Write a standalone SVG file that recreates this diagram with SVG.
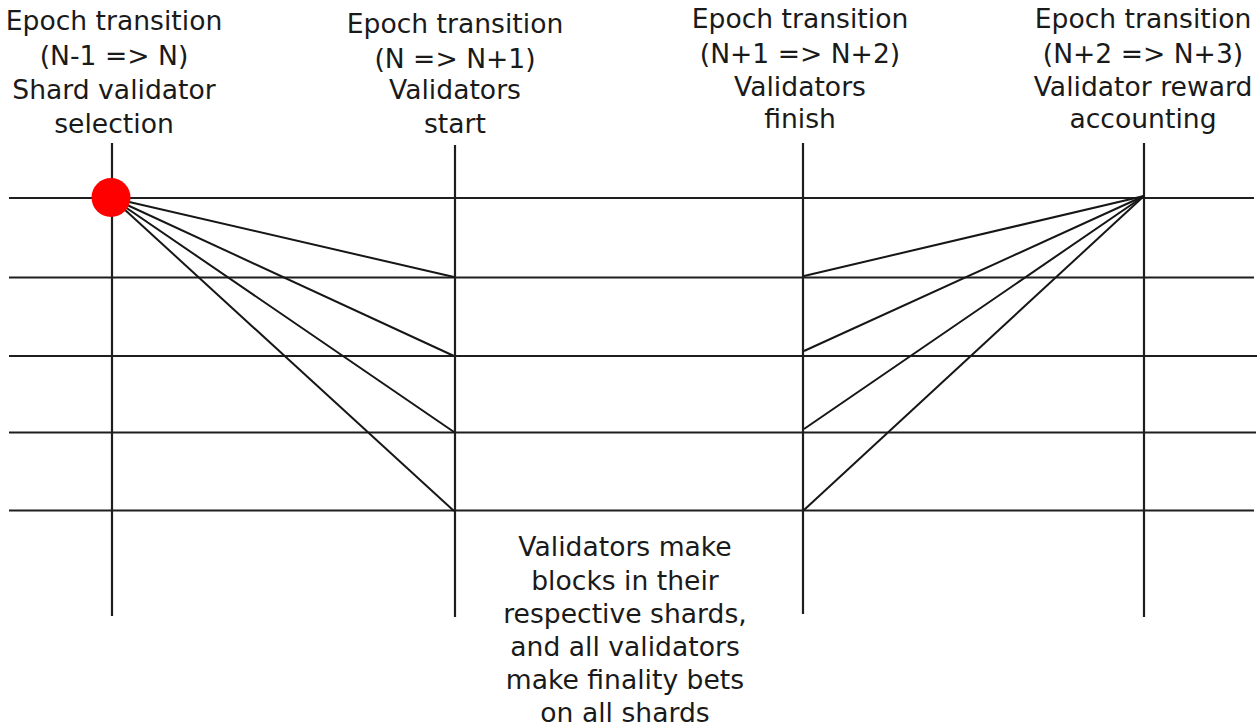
<svg xmlns="http://www.w3.org/2000/svg" width="1259" height="728" viewBox="0 0 1259 728">
<style>
.t{font-family:"DejaVu Sans",sans-serif;font-size:26.6px;fill:#1a1a1a;text-anchor:middle}
.h{stroke:#1e1e1e;stroke-width:2.2;fill:none}
.v{stroke:#1e1e1e;stroke-width:2.2;fill:none}
.c{stroke:#161616;stroke-width:2;fill:none}
</style>
<rect width="1259" height="728" fill="#fff"/>
<g id="grid">
<line class="h" x1="9" y1="198" x2="1254" y2="198"/>
<line class="h" x1="9" y1="277.5" x2="1254" y2="277.5"/>
<line class="h" x1="9" y1="356" x2="1257" y2="356"/>
<line class="h" x1="9" y1="432.5" x2="1256" y2="432.5"/>
<line class="h" x1="9" y1="510.5" x2="1254" y2="510.5"/>
<line class="v" x1="112" y1="143" x2="112" y2="616"/>
<line class="v" x1="455" y1="145" x2="455" y2="617"/>
<line class="v" x1="803" y1="143" x2="803" y2="614"/>
<line class="v" x1="1144" y1="143" x2="1144" y2="617"/>
</g>
<g id="connectors">
<line class="c" x1="112" y1="198" x2="454" y2="277"/>
<line class="c" x1="112" y1="198" x2="454" y2="356"/>
<line class="c" x1="112" y1="198" x2="454" y2="432"/>
<line class="c" x1="112" y1="198" x2="454" y2="511"/>
<line class="c" x1="1144" y1="196" x2="804" y2="276"/>
<line class="c" x1="1144" y1="196" x2="804" y2="351"/>
<line class="c" x1="1144" y1="196" x2="804" y2="429"/>
<line class="c" x1="1144" y1="196" x2="804" y2="510"/>
</g>
<g id="node-start">
<circle cx="111" cy="197.5" r="19.5" fill="#ff0000"/>
</g>
<g id="label-1">
<text class="t" x="114" y="30">Epoch transition</text>
<text class="t" x="114" y="64.5">(N-1 =&gt; N)</text>
<text class="t" x="114" y="99">Shard validator</text>
<text class="t" x="114" y="132.5">selection</text>
</g>
<g id="label-2">
<text class="t" x="455" y="33">Epoch transition</text>
<text class="t" x="455" y="67.5">(N =&gt; N+1)</text>
<text class="t" x="455" y="99">Validators</text>
<text class="t" x="455" y="133">start</text>
</g>
<g id="label-3">
<text class="t" x="800" y="28">Epoch transition</text>
<text class="t" x="800" y="63">(N+1 =&gt; N+2)</text>
<text class="t" x="800" y="96">Validators</text>
<text class="t" x="800" y="128">finish</text>
</g>
<g id="label-4">
<text class="t" x="1143" y="28">Epoch transition</text>
<text class="t" x="1143" y="63">(N+2 =&gt; N+3)</text>
<text class="t" x="1143" y="96">Validator reward</text>
<text class="t" x="1143" y="128">accounting</text>
</g>
<g id="label-middle">
<text class="t" x="625" y="556">Validators make</text>
<text class="t" x="625" y="589.5">blocks in their</text>
<text class="t" x="625" y="622.5">respective shards,</text>
<text class="t" x="625" y="656">and all validators</text>
<text class="t" x="625" y="689">make finality bets</text>
<text class="t" x="625" y="722">on all shards</text>
</g>
</svg>
